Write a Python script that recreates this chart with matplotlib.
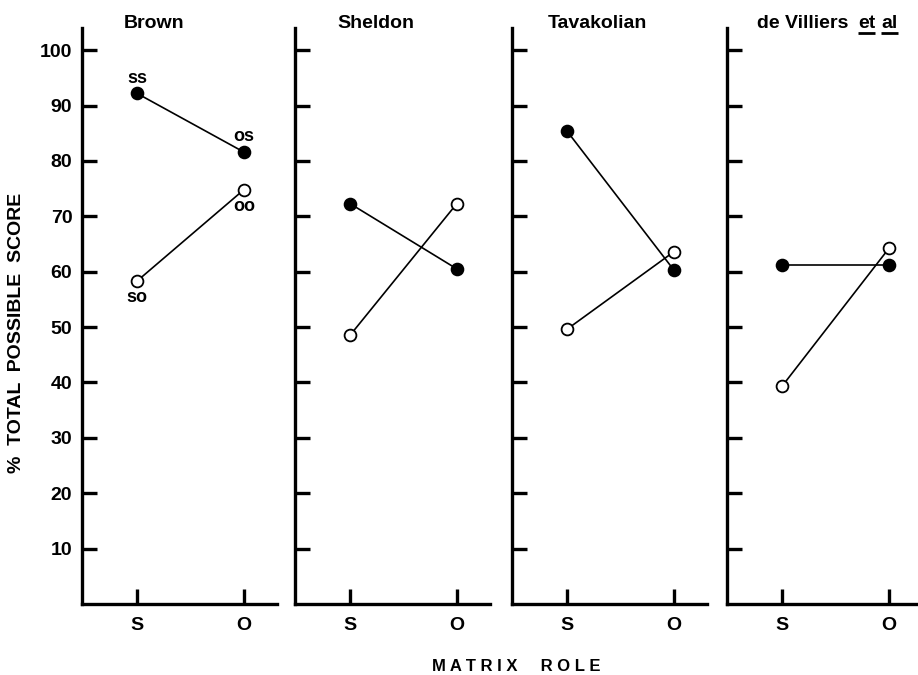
import matplotlib
matplotlib.use("Agg")
import matplotlib.pyplot as plt

plt.rcParams['font.family'] = ['Liberation Sans', 'DejaVu Sans']
plt.rcParams['font.weight'] = 'bold'

studies = ["Brown", "Sheldon", "Tavakolian", "de Villiers"]
roles = ["S", "O"]
# filled circles: subject-role NP, open circles: object-role NP
filled_scores = [[92.2, 81.6], [72.3, 60.5], [85.4, 60.3], [61.2, 61.2]]
open_scores = [[58.3, 74.8], [48.5, 72.3], [49.6, 63.6], [39.3, 64.2]]
point_labels = [["ss", "os"], ["so", "oo"]]  # Brown panel only
y_ticks = [10, 20, 30, 40, 50, 60, 70, 80, 90, 100]


def main():
    fig = plt.figure(figsize=(9.18, 6.75), dpi=100)
    lefts = [82, 295, 512, 727]
    title_x = [0.215, 0.215, 0.185, 0.154]
    xs = [1, 2]
    renderer = fig.canvas.get_renderer()

    for i, name in enumerate(studies):
        ax = fig.add_axes([lefts[i] / 918, 1 - 604 / 675, 195 / 918, 576 / 675])
        ax.plot(xs, filled_scores[i], color="black", lw=1.2, marker="o", ms=8.5,
                mfc="black", mec="black", mew=1.3, zorder=3)
        ax.plot(xs, open_scores[i], color="black", lw=1.2, marker="o", ms=8.5,
                mfc="white", mec="black", mew=1.3, zorder=3)

        ax.set_xlim(0.486, 2.31)
        ax.set_ylim(0, 104)
        ax.set_xticks(xs)
        ax.set_xticklabels(roles)
        ax.set_yticks(y_ticks)
        if i == 0:
            ax.set_yticklabels([str(t) for t in y_ticks])
            ax.set_ylabel("%  TOTAL  POSSIBLE  SCORE", fontsize=14, fontweight="bold")
            ax.yaxis.set_label_coords(-0.29, 0.47)
        else:
            ax.set_yticklabels([])

        for side in ["top", "right"]:
            ax.spines[side].set_visible(False)
        for side in ["left", "bottom"]:
            ax.spines[side].set_linewidth(2.4)
        ax.tick_params(axis="both", direction="in", length=11, width=2.4,
                       labelsize=14, pad=7)
        ax.tick_params(axis="x", pad=9)

        t = ax.text(title_x[i], 1.0, name, transform=ax.transAxes,
                    fontsize=14, fontweight="bold", ha="left", va="baseline")
        if name == "de Villiers":
            # "et al" underlined, as in the original
            inv = ax.transAxes.inverted()
            x_next = inv.transform(t.get_window_extent(renderer))[1][0] + 0.05
            for word in ["et", "al"]:
                w = ax.text(x_next, 1.0, word, transform=ax.transAxes,
                            fontsize=14, fontweight="bold", ha="left", va="baseline")
                bb = inv.transform(w.get_window_extent(renderer))
                ax.plot([bb[0][0], bb[1][0]], [0.991, 0.991], transform=ax.transAxes,
                        color="black", lw=2, clip_on=False, solid_capstyle="butt")
                x_next = bb[1][0] + 0.03

        if i == 0:
            for j in range(2):
                ax.annotate(point_labels[0][j], (xs[j], filled_scores[i][j]),
                            xytext=(0, 11), textcoords="offset points",
                            ha="center", va="center", fontsize=13, fontweight="bold")
                ax.annotate(point_labels[1][j], (xs[j], open_scores[i][j]),
                            xytext=(0, -12), textcoords="offset points",
                            ha="center", va="center", fontsize=13, fontweight="bold")

    fig.text(0.562, 0.013, "M A T R I X     R O L E", ha="center", va="center",
             fontsize=12, fontweight="bold")

    fig.savefig("out.png", dpi=100)
    plt.close(fig)


if __name__ == "__main__":
    main()
